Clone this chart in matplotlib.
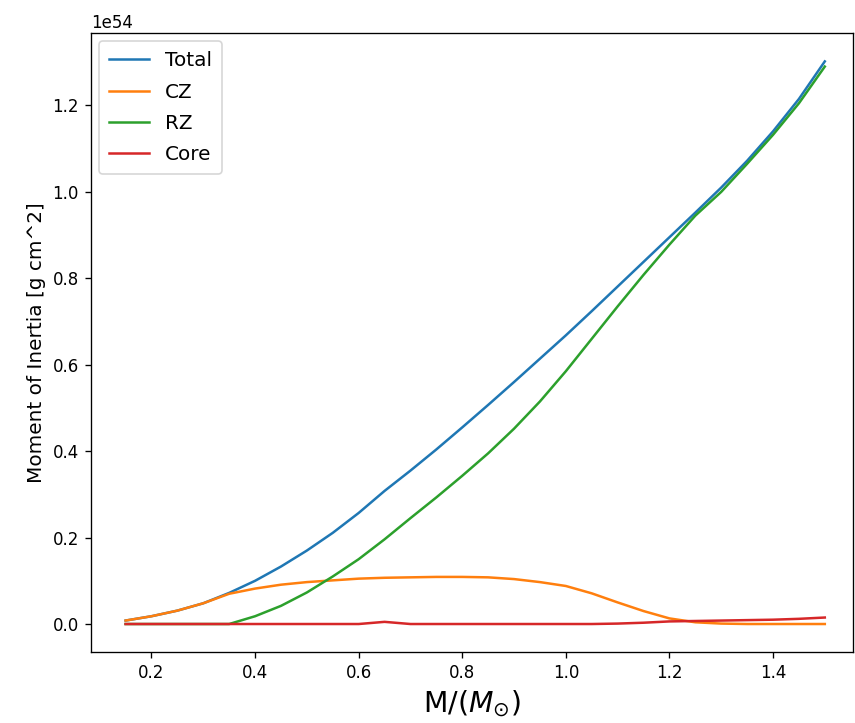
import numpy as np
import matplotlib.pyplot as plt

mass = [0.15, 0.20, 0.25, 0.30, 0.35, 0.40, 0.45, 0.50, 0.55, 0.60,
        0.65, 0.70, 0.75, 0.80, 0.85, 0.90, 0.95, 1.00, 1.05, 1.10,
        1.15, 1.20, 1.25, 1.30, 1.35, 1.40, 1.45, 1.50]

# moments of inertia in units of 1e54 g cm^2
total = [0.008, 0.018, 0.031, 0.048, 0.072, 0.100, 0.133, 0.170, 0.211, 0.257,
         0.308, 0.355, 0.404, 0.455, 0.507, 0.560, 0.614, 0.668, 0.724, 0.781,
         0.838, 0.895, 0.952, 1.010, 1.072, 1.140, 1.215, 1.302]
cz = [0.008, 0.018, 0.031, 0.048, 0.070, 0.082, 0.091, 0.097, 0.101, 0.105,
      0.107, 0.108, 0.109, 0.109, 0.108, 0.104, 0.097, 0.088, 0.071, 0.050,
      0.030, 0.013, 0.004, 0.001, 0.000, 0.000, 0.000, 0.000]
rz = [0.000, 0.000, 0.000, 0.000, 0.000, 0.018, 0.042, 0.073, 0.110, 0.150,
      0.196, 0.245, 0.293, 0.343, 0.395, 0.452, 0.515, 0.585, 0.660, 0.735,
      0.808, 0.878, 0.945, 1.000, 1.065, 1.132, 1.205, 1.290]
core = [0.000, 0.000, 0.000, 0.000, 0.000, 0.000, 0.000, 0.000, 0.000, 0.000,
        0.005, 0.000, 0.000, 0.000, 0.000, 0.000, 0.000, 0.000, 0.000, 0.001,
        0.003, 0.006, 0.007, 0.008, 0.009, 0.010, 0.012, 0.015]

scale = 1e54

fig = plt.figure(figsize=(855 / 120, 723 / 120), dpi=120)
ax = fig.add_axes([0.106, 0.098, 0.892, 0.856])

ax.plot(mass, np.array(total) * scale, label="Total")
ax.plot(mass, np.array(cz) * scale, label="CZ")
ax.plot(mass, np.array(rz) * scale, label="RZ")
ax.plot(mass, np.array(core) * scale, label="Core")

ax.set_xlim(0.0825, 1.555)
ax.set_xlabel(r"M/($M_{\odot}$)", fontsize=17)
ax.set_ylabel("Moment of Inertia [g cm^2]", fontsize=12)
ax.legend(loc="upper left", fontsize=12, labelspacing=0.62,
          borderpad=0.5, borderaxespad=0.4)

fig.savefig("out.png", dpi=120)
